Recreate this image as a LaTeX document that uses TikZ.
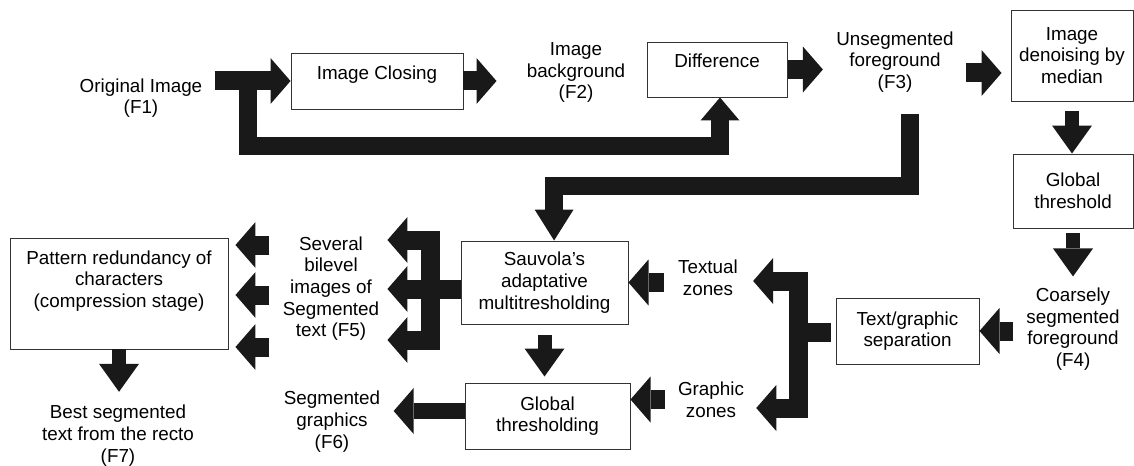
\documentclass[tikz,border=0pt]{standalone}
\usepackage{fontspec}
\setmainfont{Liberation Sans}
\usetikzlibrary{arrows.meta}
\newcommand{\diagfont}{\fontsize{13.4pt}{15.4pt}\selectfont}

\begin{document}
\begin{tikzpicture}[
  box/.style={draw=black!80,line width=0.7pt,font=\diagfont,align=center,inner sep=0pt},
  lbl/.style={font=\diagfont,align=center,inner sep=0pt},
  fatbar/.style={draw=black!90,line width=0.475cm,line join=miter},
  fat/.style={fatbar,-{Triangle[width=1.15cm,length=0.5cm,line width'=0pt]}},
  fatd/.style={fatbar,line width=0.35cm,-{Triangle[width=1cm,length=0.7cm,line width'=0pt]}}]
\useasboundingbox (0,0) rectangle (28.35,11.625);
% boxes
\node[box,minimum width=4.3cm,minimum height=1.4cm,text depth=12pt] (close) at (9.425,9.6) {Image Closing};
\node[box,minimum width=3.5cm,minimum height=1.375cm,text depth=12pt] (diff) at (17.925,9.8875) {Difference};
\node[box,minimum width=3.05cm,minimum height=2.275cm] (denoise) at (26.8,10.2375) {Image\\denoising by\\median};
\node[box,minimum width=3cm,minimum height=1.85cm] (gthr) at (26.825,6.85) {Global\\threshold};
\node[box,minimum width=3.575cm,minimum height=1.65cm] (tsep) at (22.6875,3.35) {Text/graphic\\separation};
\node[box,minimum width=4.175cm,minimum height=2.075cm] (sauv) at (13.6125,4.5625) {Sauvola's\\adaptative\\multitresholding};
\node[box,minimum width=4.125cm,minimum height=1.65cm] (gthl) at (13.6875,1.225) {Global\\thresholding};
\node[box,minimum width=5.45cm,minimum height=2.775cm,text depth=20.6pt] (patt) at (2.975,4.2875) {Pattern redundancy of\\characters\\(compression stage)};
% labels
\node[lbl] (orig) at (3.525,9.175) {Original Image\\(F1)};
\node[lbl] (bg) at (14.4,9.8125) {Image\\background\\(F2)};
\node[lbl] (unseg) at (22.375,10.075) {Unsegmented\\foreground\\(F3)};
\node[lbl] (coarse) at (26.825,3.4) {Coarsely\\segmented\\foreground\\(F4)};
\node[lbl] (textual) at (17.7,4.6875) {Textual\\zones};
\node[lbl] (graphic) at (17.775,1.6375) {Graphic\\zones};
\node[lbl] (f5) at (8.275,4.4125) {Several\\bilevel\\images of\\Segmented\\text (F5)};
\node[lbl] (f6) at (8.3,1.0875) {Segmented\\graphics\\(F6)};
\node[lbl] (f7) at (2.95,0.7375) {Best segmented\\text from the recto\\(F7)};
% junctions
\coordinate (j1) at (6.2,9.6);
\coordinate (j2) at (6.2,7.975);
\coordinate (c1) at (18,6.975);
\coordinate (jt) at (19.95,3.325);
\coordinate (jx) at (19.95,4.6);
\coordinate (jg) at (19.95,1.425);
\coordinate (jl) at (10.75,4.4);
\coordinate (ju) at (10.75,5.625);
\coordinate (jd) at (10.75,3.125);
% top row
\draw[fat,shorten <=0.3cm] (orig.east |- close.west) -- (close.west);
\draw[fatbar,line width=0.45cm,-{Triangle[width=0.975cm,length=0.575cm,line width'=0pt]}] (j1) -- (j2) -| ([xshift=0.075cm]diff.south);
\draw[fat,shorten >=0.75cm] (close.east) -- (close.east -| bg.west);
\draw[fat,shorten >=0.33cm] (diff.east) -- (diff.east -| unseg.west);
\draw[fat,shorten <=0.3cm,shorten >=0.225cm] ([yshift=-0.275cm]unseg.east) -- ([yshift=-0.275cm]unseg.east -| denoise.west);
% right column
\draw[fatd,shorten <=0.25cm] (denoise.south) -- (denoise.south |- gthr.north);
\draw[fatd,shorten <=0.125cm,shorten >=0.275cm] (gthr.south) -- (gthr.south |- coarse.north);
\draw[fat,shorten <=0.34cm] (coarse.west |- tsep.east) -- (tsep.east);
% text/graphic split
\draw[fatbar,shorten <=0.125cm] (tsep.west |- jt) -- (jt);
\draw[fat,shorten >=0.375cm] (jt) -- (jx) -- (jx -| textual.east);
\draw[fat,shorten >=0.3cm] (jt) -- (jg) -- (jg -| graphic.east);
\draw[fat,shorten <=0.35cm] (textual.west |- sauv.east) -- (sauv.east);
\draw[fat,shorten <=0.33cm] (graphic.west) -- (graphic.west -| gthl.east);
% foreground to Sauvola
\draw[fatbar,line width=0.45cm,shorten <=0.525cm,-{Triangle[width=0.975cm,length=0.775cm,line width'=0pt]}] ([xshift=0.375cm]unseg.south) |- (c1) -| ([xshift=0.24cm]sauv.north);
\draw[fatd,shorten <=0.275cm,shorten >=0.15cm] (sauv.south) -- (sauv.south |- gthl.north);
% bilevel outputs
\draw[fat,shorten >=0.2cm] (sauv.west |- jl) -- (jl -| f5.east);
\draw[fat,shorten >=0.2cm] (jl) -- (ju) -- (ju -| f5.east);
\draw[fat,shorten >=0.2cm] (jl) -- (jd) -- (jd -| f5.east);
\foreach \y in {5.5,4.25,2.95}
  \draw[fat,shorten <=0.33cm,shorten >=0.175cm] (f5.west |- 0,\y) -- (patt.east |- 0,\y);
\draw[fat,line width=0.4cm,shorten >=0.33cm] ([yshift=0.125cm]gthl.west) -- ([yshift=0.125cm]gthl.west -| f6.east);
\draw[fatd,shorten >=0.325cm] (patt.south) -- (patt.south |- f7.north);
\end{tikzpicture}
\end{document}
